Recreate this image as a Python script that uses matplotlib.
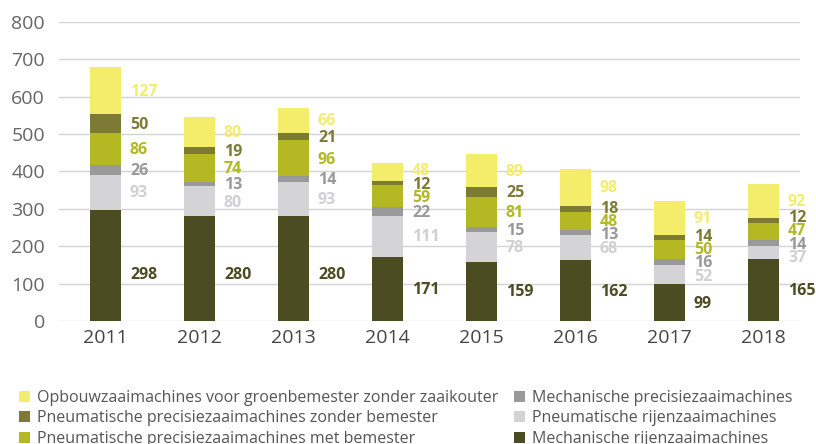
import matplotlib
matplotlib.use("Agg")
import matplotlib.pyplot as plt
from matplotlib.patches import Patch
import numpy as np

plt.rcParams['font.family'] = ['Open Sans', 'DejaVu Sans']

years = ['2011', '2012', '2013', '2014', '2015', '2016', '2017', '2018']
# stack order bottom -> top
mech_rijen = [298, 280, 280, 171, 159, 162, 99, 165]
pneu_rijen = [93, 80, 93, 111, 78, 68, 52, 37]
mech_prec = [26, 13, 14, 22, 15, 13, 16, 14]
pneu_prec_met = [86, 74, 96, 59, 81, 48, 50, 47]
pneu_prec_zonder = [50, 19, 21, 12, 25, 18, 14, 12]
opbouw = [127, 80, 66, 48, 89, 98, 91, 92]

series = [
    ("Mechanische rijenzaaimachines", mech_rijen, "#4b4c21", "#4b4c21"),
    ("Pneumatische rijenzaaimachines", pneu_rijen, "#d4d4d6", "#d0d0d2"),
    ("Mechanische precisiezaaimachines", mech_prec, "#999999", "#999999"),
    ("Pneumatische precisiezaaimachines met bemester", pneu_prec_met, "#b3b823", "#b3b823"),
    ("Pneumatische precisiezaaimachines zonder bemester", pneu_prec_zonder, "#7c7a33", "#7c7a33"),
    ("Opbouwzaaimachines voor groenbemester zonder zaaikouter", opbouw, "#f4ec6b", "#f4ec6b"),
]

W, H = 816, 444
fig = plt.figure(figsize=(W / 100, H / 100), dpi=100)
ax = fig.add_axes([59 / W, (H - 321) / H, (800 - 59) / W, (321 - 22) / H])

x = np.arange(len(years))
bw = 0.33

bottom = np.zeros(len(years))
mids = []
for name, vals, col, tcol in series:
    v = np.array(vals, dtype=float)
    ax.bar(x, v, bw, bottom=bottom, color=col, label=name, zorder=2, linewidth=0)
    mids.append(bottom + v / 2)
    bottom = bottom + v
mids = np.array(mids)  # shape (nseries, nyears)


def spread(ys, gap):
    # cluster-based label spreading
    clusters = [[i] for i in range(len(ys))]
    while True:
        placed = []
        for c in clusters:
            m = np.mean([ys[i] for i in c])
            n = len(c)
            start = m - gap * (n - 1) / 2
            placed.append([start + gap * k for k in range(n)])
        merged = False
        for j in range(len(clusters) - 1):
            if placed[j + 1][0] - placed[j][-1] < gap - 1e-9:
                clusters[j] = clusters[j] + clusters[j + 1]
                del clusters[j + 1]
                merged = True
                break
        if not merged:
            out = []
            for p in placed:
                out.extend(p)
            return out


gap = 36
for j in range(len(years)):
    ys = list(mids[:, j])
    ys[0] = min(ys[0], 127)
    lab = spread(ys, gap)
    for k, (name, vals, col, tcol) in enumerate(series):
        ax.text(x[j] + bw / 2 + 0.095, lab[k] - 3, str(vals[j]), color=tcol,
                fontsize=11.5, fontweight='bold', va='center', ha='left', zorder=3)

ax.set_ylim(0, 800)
ax.set_xlim(-0.495, 7.388)
ax.set_yticks(range(0, 801, 100))
ax.set_xticks(x)
ax.set_xticklabels(years)
ax.yaxis.grid(True, color='#d3d3d3', linewidth=1, zorder=0)
ax.set_axisbelow(True)
for s in ax.spines.values():
    s.set_visible(False)
ax.tick_params(axis='y', length=0, pad=10, labelsize=14, labelcolor='#666666')
ax.tick_params(axis='x', length=0, pad=6, labelsize=14, labelcolor='#444444')

# legend in two columns
lookup = {s[0]: s for s in series}
col1 = ["Opbouwzaaimachines voor groenbemester zonder zaaikouter",
        "Pneumatische precisiezaaimachines zonder bemester",
        "Pneumatische precisiezaaimachines met bemester"]
col2 = ["Mechanische precisiezaaimachines",
        "Pneumatische rijenzaaimachines",
        "Mechanische rijenzaaimachines"]
for names, xpos in ((col1, 14 / W), (col2, 509 / W)):
    handles = [Patch(facecolor=lookup[n][2], edgecolor='none') for n in names]
    fig.legend(handles, names, loc='upper left', bbox_to_anchor=(xpos, (H - 385) / H),
               frameon=False, fontsize=11.5, labelcolor='#555555', handlelength=0.7,
               handleheight=0.7, handletextpad=0.45, labelspacing=0.28,
               borderaxespad=0, borderpad=0.3)

fig.savefig("out.png", dpi=100)
